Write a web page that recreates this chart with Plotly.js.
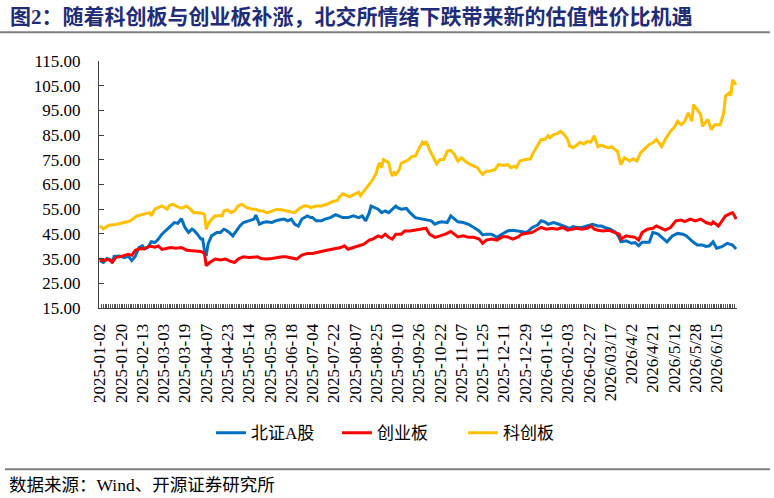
<!DOCTYPE html>
<html><head><meta charset="utf-8">
<script src="https://cdn.plot.ly/plotly-3.0.1.min.js"></script>
<style>html,body{margin:0;padding:0;background:#fff;}#chart{width:774px;height:498px;}</style>
</head><body><div id="chart"></div>
<script>
// tick labels (every 12 trading days)
const tickLabels = ["2025-01-02","2025-01-20","2025-02-13","2025-03-03","2025-03-19","2025-04-07","2025-04-23","2025-05-14","2025-05-30","2025-06-18","2025-07-04","2025-07-22","2025-08-07","2025-08-25","2025-09-10","2025-09-26","2025-10-22","2025-11-07","2025-11-25","2025-12-11","2025-12-29","2026-01-16","2026-02-03","2026-02-27","2026/03/17","2026/4/2","2026/4/21","2026/5/12","2026/5/28","2026/6/15"];
const labelStep = 12;
const nDays = 360;

// 北证A股 (trading-day index, value)
const bjX = [0,2,4,6,7,8,11,14,16,18,20,22,24,25,27,29,31,33,35,37,39,41,42,44,46,48,50,52,53,55,57,58,59,60,61,63,66,68,70,71,73,75,77,79,81,84,87,88,90,92,94,97,99,101,104,106,108,110,112,114,117,119,120,122,125,127,130,133,135,137,140,143,146,148,150,152,153,155,157,159,161,163,165,167,168,170,173,175,178,181,184,187,189,191,193,196,198,200,202,205,208,211,214,216,218,221,224,227,230,233,237,241,244,247,249,251,253,256,259,262,265,267,269,272,275,278,281,283,285,288,291,293,294,297,300,302,304,306,310,312,315,317,320,323,326,329,331,334,337,340,342,344,346,348,351,354,357,359];
const bjY = [34.2,33.5,35.0,34.5,33.2,35.9,36.0,35.4,36.0,34.2,36.0,39.5,40.2,39.0,39.5,41.8,41.5,42.9,44.9,46.2,47.6,48.9,49.6,49.3,51.2,47.6,45.6,46.9,46.5,44.9,42.9,42.9,38.2,36.1,40.8,44.2,45.6,45.6,46.9,46.6,45.6,44.2,46.2,48.2,49.6,50.3,51.0,52.6,48.9,49.6,49.9,49.6,50.3,50.6,51.0,50.3,51.0,48.9,48.2,51.0,52.3,51.6,51.6,50.3,50.3,51.0,51.6,52.8,52.3,51.6,51.6,52.3,51.6,52.3,50.3,53.6,56.3,55.6,55.0,53.6,54.3,53.6,55.0,56.3,55.6,55.0,55.3,53.6,51.6,51.2,50.6,50.3,48.9,49.6,49.9,49.6,52.3,51.0,49.9,49.6,48.9,47.6,46.2,44.6,44.9,44.9,43.6,44.9,46.2,46.5,46.2,45.6,47.6,48.6,50.3,49.9,48.9,49.6,48.9,48.2,47.2,48.0,47.6,47.6,48.2,48.9,48.2,48.2,47.6,46.9,45.6,43.6,41.8,42.2,41.2,41.5,40.2,41.6,41.6,45.6,44.9,43.6,41.8,44.2,45.2,44.9,44.2,42.2,40.5,40.5,39.9,40.2,41.8,39.2,39.8,41.2,40.5,38.9];

// 创业板
const cyX = [0,1,3,5,7,9,13,16,18,20,23,25,28,31,33,35,38,40,43,46,49,52,55,57,59,60,62,65,68,71,73,76,78,81,84,87,89,91,94,97,100,103,105,108,111,114,117,120,122,125,128,131,134,136,138,140,143,146,149,152,154,157,159,161,163,165,167,170,172,175,178,181,184,186,189,192,195,198,200,202,205,208,211,214,216,218,221,224,227,230,233,236,238,241,244,247,249,252,255,258,261,264,266,269,272,275,277,279,281,284,287,290,293,294,297,300,302,304,306,309,312,314,316,319,322,325,328,330,333,336,339,342,345,346,349,351,353,355,357,358,359];
const cyY = [35.1,34.2,34.4,34.6,33.6,35.4,36.1,36.7,36.3,38.4,39.1,38.9,40.1,39.6,40.1,38.7,39.2,39.5,39.2,39.5,38.4,38.2,38.2,37.9,37.1,32.1,33.4,34.8,34.4,34.8,34.1,33.4,34.8,35.7,35.4,35.4,35.7,35.0,34.8,35.0,35.4,35.7,35.7,35.4,34.8,36.4,37.1,37.1,37.5,37.9,38.4,38.8,39.2,39.5,40.2,38.8,39.5,40.2,40.8,42.5,42.9,44.2,43.6,44.9,43.6,42.9,44.9,44.9,46.2,46.2,46.5,46.7,47.3,44.9,43.6,44.2,44.9,46.0,44.9,43.8,44.2,43.6,43.6,42.9,41.2,42.5,42.9,42.5,43.8,43.8,42.9,43.8,44.9,45.2,45.6,46.9,47.6,46.9,47.3,46.9,47.6,46.5,46.9,47.3,46.9,47.3,48.2,46.9,46.5,46.2,46.5,45.6,44.9,42.9,44.2,43.8,43.6,42.5,45.6,46.9,47.3,48.2,47.6,46.5,47.6,50.3,50.6,50.0,51.0,50.3,51.0,49.6,48.9,49.9,48.2,50.3,52.3,53.0,53.6,52.5,51.0];

// 科创板
const kcX = [0,2,5,9,13,17,21,25,28,29,31,35,37,38,39,41,43,45,47,49,51,53,56,58,59,60,61,63,65,67,69,70,72,74,76,78,80,83,86,88,90,92,94,96,98,100,103,106,107,110,112,115,117,119,122,125,128,131,134,135,137,139,141,144,146,147,149,151,153,154,156,157,158,159,160,163,164,165,166,167,169,170,172,174,176,178,180,182,183,184,186,187,189,190,192,194,196,198,200,202,204,206,209,213,215,216,218,220,223,225,228,230,232,234,235,237,240,243,244,246,249,251,253,254,256,258,260,262,264,265,267,269,271,273,275,277,279,281,283,285,287,289,290,292,294,296,298,299,301,303,305,307,310,312,314,317,319,322,324,326,328,330,332,334,335,337,339,340,343,345,347,350,352,353,355,356,357,359];
const kcY = [48.3,47.0,48.5,48.8,49.5,50.2,52.3,53.0,53.6,52.3,55.0,56.3,55.6,55.0,56.3,57.0,56.3,55.6,55.6,56.3,55.0,53.6,53.6,53.3,53.0,46.9,48.9,50.9,52.3,52.3,52.3,54.3,54.7,53.6,54.3,56.3,57.0,55.6,55.0,55.0,54.3,54.3,53.6,53.9,54.3,55.0,54.7,54.3,54.3,53.6,55.0,56.3,56.3,55.6,56.3,56.3,57.0,58.0,58.5,59.8,61.2,60.5,60.0,61.2,61.9,60.5,62.5,64.0,66.4,67.0,69.8,72.5,73.8,71.8,75.1,73.8,70.4,68.4,69.8,69.1,71.1,73.6,74.3,75.0,76.3,76.5,79.5,82.1,81.4,82.5,79.0,77.5,75.1,73.4,75.1,75.1,78.5,78.8,77.2,74.5,75.8,74.5,73.1,71.8,69.8,69.1,70.4,70.4,71.1,73.1,72.7,73.1,71.8,72.4,71.8,74.5,75.1,75.4,77.2,79.5,83.2,83.2,84.8,83.9,85.2,85.6,86.6,85.2,83.2,80.6,79.9,80.9,82.1,81.4,82.5,82.1,84.8,80.3,80.9,80.3,79.9,80.3,79.5,78.5,73.1,75.8,75.1,74.5,75.4,74.5,77.8,79.2,81.2,81.9,83.2,80.3,83.2,86.6,88.0,90.6,89.2,90.6,94.0,90.6,97.3,95.3,93.3,88.6,91.3,87.2,89.2,89.2,94.0,100.7,102.0,101.0,107.4,105.4];

const tickVals = [], tickText = [];
for (let i = 0; i < nDays; i++) {
  tickVals.push(i);
  tickText.push(i % labelStep === 0 && tickLabels[i / labelStep] ? tickLabels[i / labelStep] : "");
}

const serif = "Liberation Serif, Times New Roman, serif";
const cjk = "Liberation Serif, Noto Sans CJK SC, serif";

const traces = [
  {x: bjX, y: bjY, name: "北证A股", type: "scatter", mode: "lines", line: {color: "#0070C0", width: 3}},
  {x: cyX, y: cyY, name: "创业板", type: "scatter", mode: "lines", line: {color: "#FF0000", width: 3}},
  {x: kcX, y: kcY, name: "科创板", type: "scatter", mode: "lines", line: {color: "#FFC000", width: 3}}
];

const layout = {
  width: 774, height: 498,
  margin: {l: 99, r: 37, t: 61, b: 190},
  paper_bgcolor: "#fff", plot_bgcolor: "#fff",
  showlegend: true,
  legend: {orientation: "h", x: (211 - 99) / 638, xanchor: "left", y: -0.507, yanchor: "middle",
           entrywidth: 81, entrywidthmode: "pixels",
           font: {family: cjk, size: 17, color: "#000"}},
  xaxis: {
    range: [-0.5, nDays - 0.5], showgrid: false, zeroline: false,
    showline: true, linecolor: "#404040", linewidth: 1,
    tickmode: "array", tickvals: tickVals, ticktext: tickText,
    ticks: "inside", ticklen: 4, tickcolor: "#555", tickwidth: 1,
    tickangle: -90, ticklabelstandoff: 8,
    tickfont: {family: serif, size: 17, color: "#000"}
  },
  yaxis: {
    range: [15, 115], tick0: 15, dtick: 10, tickformat: ".2f",
    showgrid: false, zeroline: false,
    showline: true, linecolor: "#404040", linewidth: 1,
    ticks: "inside", ticklen: 5, tickcolor: "#404040",
    ticklabelstandoff: 14,
    tickfont: {family: serif, size: 17, color: "#000"}
  },
  shapes: [
    {type: "line", xref: "paper", yref: "paper", x0: -99/638, x1: (770-99)/638, y0: (307.7-32)/247, y1: (307.7-32)/247, line: {color: "#808080", width: 2}},
    {type: "line", xref: "paper", yref: "paper", x0: -94/638, x1: (770-99)/638, y0: (307.7-469)/247, y1: (307.7-469)/247, line: {color: "#808080", width: 2}}
  ],
  annotations: [
    {text: "<b>图2：随着科创板与创业板补涨，北交所情绪下跌带来新的估值性价比机遇</b>", xref: "paper", yref: "paper",
     x: -91/638, y: (307.7-17)/247, xanchor: "left", yanchor: "middle", showarrow: false,
     font: {family: cjk, size: 21, color: "#1F2D78"}},
    {text: "数据来源：Wind、开源证券研究所", xref: "paper", yref: "paper",
     x: -92/638, y: (307.7-485)/247, xanchor: "left", yanchor: "middle", showarrow: false,
     font: {family: cjk, size: 17.5, color: "#000"}}
  ]
};

Plotly.newPlot("chart", traces, layout, {displayModeBar: false, staticPlot: true});
</script>
</body></html>
